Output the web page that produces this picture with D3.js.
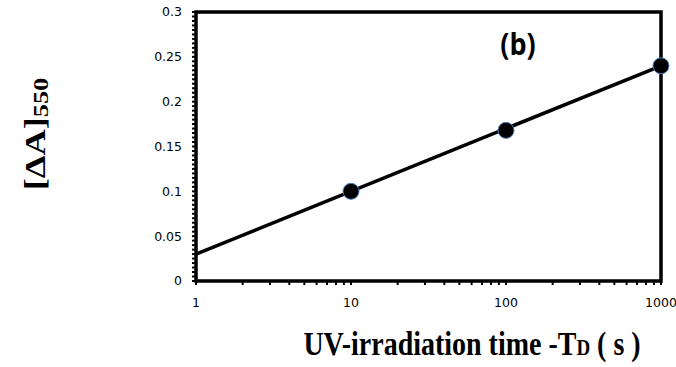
<!DOCTYPE html>
<html>
<head>
<meta charset="UTF-8">
<script src="https://cdnjs.cloudflare.com/ajax/libs/d3/7.8.5/d3.min.js"></script>
<style>
  body { margin: 0; background: #fff; }
  .tick-label { font-family: "DejaVu Sans", Verdana, sans-serif; font-size: 12.5px; fill: #000; }
  .title { font-family: "Liberation Serif", "Times New Roman", serif; font-weight: bold; fill: #000; }
</style>
</head>
<body>
<div id="chart"></div>
<script>
// measured points
const times = [10, 100, 1000];
const deltaA = [0.1, 0.168, 0.24];
// fitted log trend line (endpoints)
const trendTimes = [1, 1000];
const trendValues = [0.03, 0.24];
const xTicks = [1, 10, 100, 1000];
const yTicks = [0, 0.05, 0.1, 0.15, 0.2, 0.25, 0.3];

const W = 676, H = 367;
const margin = { top: 12, right: 15, bottom: 86, left: 196 };
const width = W - margin.left - margin.right;
const height = H - margin.top - margin.bottom;

const svg = d3.select("#chart").append("svg")
    .attr("width", W).attr("height", H);
const g = svg.append("g").attr("transform", `translate(${margin.left},${margin.top})`);

const x = d3.scaleLog().domain([1, 1000]).range([0, width]);
const y = d3.scaleLinear().domain([0, 0.3]).range([height, 0]);

// y minor ticks
const yMinor = d3.range(0, 0.3001, 0.005);
g.selectAll(".ymin").data(yMinor).enter().append("line")
    .attr("x1", -4).attr("x2", 0)
    .attr("y1", d => y(d)).attr("y2", d => y(d))
    .attr("stroke", "#000").attr("stroke-width", 2);

// x minor ticks (log)
const xMinor = [];
[1, 10, 100].forEach(dec => { for (let k = 1; k <= 10; k++) xMinor.push(dec * k); });
g.selectAll(".xmin").data(xMinor).enter().append("line")
    .attr("x1", d => x(d)).attr("x2", d => x(d))
    .attr("y1", height).attr("y2", height + 4)
    .attr("stroke", "#000").attr("stroke-width", 2);

// frame
g.append("rect").attr("x", 0).attr("y", 0).attr("width", width).attr("height", height)
    .attr("fill", "none").attr("stroke", "#000").attr("stroke-width", 3.5);

// tick labels
g.selectAll(".yl").data(yTicks).enter().append("text")
    .attr("class", "tick-label")
    .attr("x", -14).attr("y", d => y(d)).attr("dy", "0.35em")
    .attr("text-anchor", "end").text(d => d);
g.selectAll(".xl").data(xTicks).enter().append("text")
    .attr("class", "tick-label")
    .attr("x", d => x(d)).attr("y", height + 26)
    .attr("text-anchor", "middle").text(d => d);

// trend line
const line = d3.line().x(d => x(d[0])).y(d => y(d[1]));
g.append("path").datum(d3.zip(trendTimes, trendValues))
    .attr("d", line).attr("fill", "none")
    .attr("stroke", "#000").attr("stroke-width", 3.5);

// points
g.selectAll(".pt").data(d3.zip(times, deltaA)).enter().append("circle")
    .attr("cx", d => x(d[0])).attr("cy", d => y(d[1])).attr("r", 8)
    .attr("fill", "#000").attr("stroke", "#4a7ebb").attr("stroke-width", 1);

// panel label
g.append("text")
    .attr("transform", `translate(${x(100) + 12},43) scale(1,1.1)`)
    .attr("text-anchor", "middle")
    .style("font-family", "'Open Sans', 'Liberation Sans', sans-serif")
    .style("font-weight", "bold").style("font-size", "27px")
    .text("(b)");

// y title (stretched like the source image)
const yt = svg.append("text").attr("class", "title")
    .attr("transform", "translate(45,134) scale(1,1.25) rotate(-90)")
    .attr("text-anchor", "middle").style("font-size", "29px");
yt.append("tspan").text("[ΔA]");
yt.append("tspan").attr("dy", 3).style("font-size", "21px").text("550");

// x title
const xt = svg.append("text").attr("class", "title")
    .attr("transform", "translate(472,355) scale(1,1.2)")
    .attr("text-anchor", "middle").style("font-size", "28px");
xt.append("tspan").text("UV-irradiation time -T");
xt.append("tspan").style("font-size", "19px").text("D");
xt.append("tspan").text(" ( s )");
</script>
</body>
</html>
